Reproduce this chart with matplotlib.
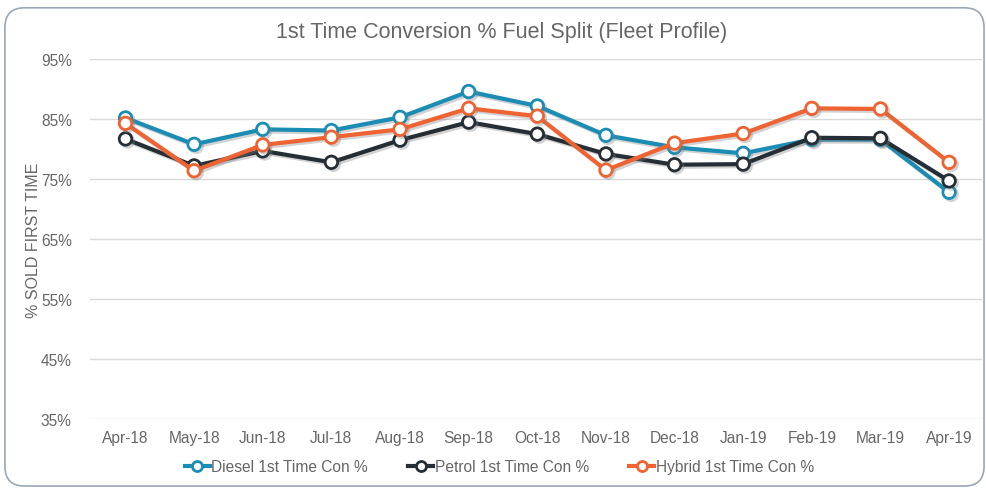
import matplotlib
matplotlib.use('Agg')
import matplotlib.pyplot as plt
import matplotlib.patheffects as pe
from matplotlib.patches import FancyBboxPatch
from matplotlib.ticker import FuncFormatter

months = ['Apr-18', 'May-18', 'Jun-18', 'Jul-18', 'Aug-18', 'Sep-18', 'Oct-18',
          'Nov-18', 'Dec-18', 'Jan-19', 'Feb-19', 'Mar-19', 'Apr-19']
diesel = [85.2, 80.8, 83.3, 83.1, 85.3, 89.6, 87.2, 82.3, 80.3, 79.3, 81.6, 81.6, 72.8]
petrol = [81.7, 77.2, 79.7, 77.8, 81.5, 84.5, 82.5, 79.2, 77.4, 77.5, 81.9, 81.8, 74.7]
hybrid = [84.3, 76.4, 80.7, 82.0, 83.3, 86.8, 85.5, 76.5, 81.0, 82.6, 86.8, 86.7, 77.8]

series = [
  ('Diesel 1st Time Con %', diesel, '#1b8db4'),
  ('Petrol 1st Time Con %', petrol, '#252e35'),
  ('Hybrid 1st Time Con %', hybrid, '#ef6232'),
]

plt.rcParams['font.family'] = ['Liberation Sans', 'DejaVu Sans']
text_col = '#666666'

fig = plt.figure(figsize=(9.87, 4.89), dpi=100)
ax = fig.add_axes([0.091, 0.141, 0.904, 0.736])

# rounded frame around the chart
frame = FancyBboxPatch((0.005, 0.004), 0.992, 0.978,
                       boxstyle='round,pad=0,rounding_size=0.02',
                       transform=fig.transFigure, fill=False,
                       edgecolor='#9aa7b5', linewidth=1.2, mutation_aspect=2.0)
fig.patches.append(frame)

x = list(range(len(months)))
shadow = [pe.SimpleLineShadow(offset=(1.5, -1.5), shadow_color='gray', alpha=0.35), pe.Normal()]
for name, vals, col in series:
  ax.plot(x, vals, color=col, linewidth=3, marker='o', markersize=9,
          markerfacecolor='white', markeredgecolor=col, markeredgewidth=2,
          label=name, path_effects=shadow, zorder=3)

ax.set_ylim(35, 95)
ax.set_yticks(range(35, 96, 10))
ax.yaxis.set_major_formatter(FuncFormatter(lambda v, p: '%d%%' % v))
ax.set_xlim(-0.52, 12.48)
ax.set_xticks(x)
ax.set_xticklabels(months)
ax.grid(axis='y', color='#d9d9d9', linewidth=1)
ax.set_axisbelow(True)
for s in ax.spines.values():
  s.set_visible(False)
ax.tick_params(length=0, colors=text_col, labelsize=11.2, pad=8)
ax.tick_params(axis='y', pad=13)

ax.set_ylabel('% SOLD FIRST TIME', color=text_col, fontsize=11.5, labelpad=0)
fig.text(0.508, 0.934, '1st Time Conversion % Fuel Split (Fleet Profile)',
         ha='center', va='center', color=text_col, fontsize=15.5)

leg = fig.legend(loc='center', bbox_to_anchor=(0.506, 0.043), ncol=3, frameon=False,
                 fontsize=11.2, handlelength=1.6, handletextpad=0.1, columnspacing=2.6,
                 markerscale=0.8)
for t in leg.get_texts():
  t.set_color(text_col)
for h in leg.legend_handles:
  h.set_path_effects([])
  h.set_linewidth(3)

fig.savefig('out.png', dpi=100)
